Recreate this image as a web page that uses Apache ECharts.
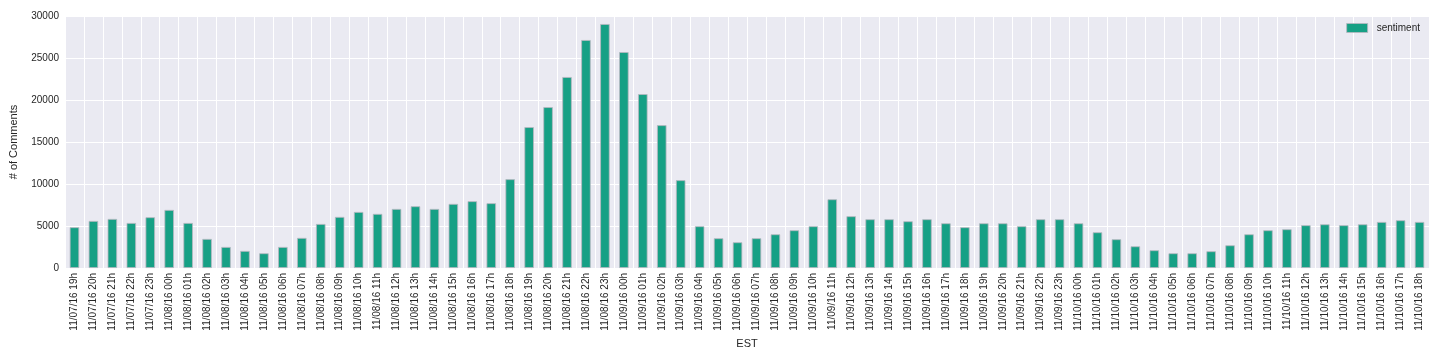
<!DOCTYPE html>
<html>
<head>
<meta charset="utf-8">
<script src="https://cdn.jsdelivr.net/npm/echarts@6/dist/echarts.min.js"></script>
<style>
html,body{margin:0;padding:0;background:#fff;}
#chart{width:1440px;height:360px;}
</style>
</head>
<body>
<div id="chart"></div>
<script>
const categories = [
 '11/07/16 19h','11/07/16 20h','11/07/16 21h','11/07/16 22h','11/07/16 23h',
 '11/08/16 00h','11/08/16 01h','11/08/16 02h','11/08/16 03h','11/08/16 04h','11/08/16 05h','11/08/16 06h','11/08/16 07h',
 '11/08/16 08h','11/08/16 09h','11/08/16 10h','11/08/16 11h','11/08/16 12h','11/08/16 13h','11/08/16 14h','11/08/16 15h',
 '11/08/16 16h','11/08/16 17h','11/08/16 18h','11/08/16 19h','11/08/16 20h','11/08/16 21h','11/08/16 22h','11/08/16 23h',
 '11/09/16 00h','11/09/16 01h','11/09/16 02h','11/09/16 03h','11/09/16 04h','11/09/16 05h','11/09/16 06h','11/09/16 07h',
 '11/09/16 08h','11/09/16 09h','11/09/16 10h','11/09/16 11h','11/09/16 12h','11/09/16 13h','11/09/16 14h','11/09/16 15h',
 '11/09/16 16h','11/09/16 17h','11/09/16 18h','11/09/16 19h','11/09/16 20h','11/09/16 21h','11/09/16 22h','11/09/16 23h',
 '11/10/16 00h','11/10/16 01h','11/10/16 02h','11/10/16 03h','11/10/16 04h','11/10/16 05h','11/10/16 06h','11/10/16 07h',
 '11/10/16 08h','11/10/16 09h','11/10/16 10h','11/10/16 11h','11/10/16 12h','11/10/16 13h','11/10/16 14h','11/10/16 15h',
 '11/10/16 16h','11/10/16 17h','11/10/16 18h'
];
const sentiment = [
 4850,5600,5840,5360,6040,
 6910,5360,3460,2500,2030,1750,2500,3580,
 5240,6080,6670,6440,7030,7350,7030,7630,
 7950,7710,10570,16770,19150,22730,27140,29040,
 25700,20700,17000,10450,4970,3540,3060,3540,
 4010,4490,4970,8180,6160,5800,5800,5560,
 5800,5320,4850,5320,5320,4970,5800,5800,
 5320,4250,3420,2580,2110,1750,1750,1990,
 2700,4010,4490,4610,5090,5200,5090,5200,
 5480,5680,5480
];
const yTicks = [0,5000,10000,15000,20000,25000,30000];
const seriesName = 'sentiment';
const yName = '# of Comments';
const xName = 'EST';

const font = 'Liberation Sans, Arial, sans-serif';
const chart = echarts.init(document.getElementById('chart'), null, {renderer:'canvas'});
chart.setOption({
  animation:false,
  backgroundColor:'#ffffff',
  grid:{left:61,right:11,top:16,bottom:92,show:true,backgroundColor:'#EAEAF2',borderWidth:0},
  legend:{
    show:true,right:15,top:18,orient:'vertical',
    itemWidth:21,itemHeight:9,itemGap:4,
    icon:'rect',
    textStyle:{fontFamily:font,fontSize:10,color:'#262626',padding:[0,0,0,4]},
    data:[{name:seriesName,itemStyle:{color:'#16a085',borderColor:'#b8b8c0',borderWidth:0.8}}]
  },
  xAxis:{
    type:'category',data:categories,
    name:xName,nameLocation:'middle',nameGap:70,
    nameTextStyle:{fontFamily:font,fontSize:11,color:'#262626'},
    axisLine:{show:false},axisTick:{show:false},
    axisLabel:{rotate:90,interval:0,fontFamily:font,fontSize:10,color:'#262626',margin:5},
    splitLine:{show:true,interval:0,lineStyle:{color:'#ffffff',width:1}},
    boundaryGap:true
  },
  yAxis:{
    type:'value',min:0,max:30000,interval:5000,
    name:yName,nameLocation:'middle',nameGap:46,
    nameTextStyle:{fontFamily:font,fontSize:11,color:'#262626'},
    axisLine:{show:false},axisTick:{show:false},
    axisLabel:{fontFamily:font,fontSize:10,color:'#262626',margin:6,
      formatter:function(v){return yTicks.indexOf(v)>=0?String(v):'';}},
    splitLine:{show:true,lineStyle:{color:'#ffffff',width:1.2}}
  },
  series:[{
    name:seriesName,type:'bar',data:sentiment,
    barCategoryGap:'50%',
    itemStyle:{color:'#16a085',borderColor:'#b8b8c0',borderWidth:0.8}
  }]
});
</script>
</body>
</html>
